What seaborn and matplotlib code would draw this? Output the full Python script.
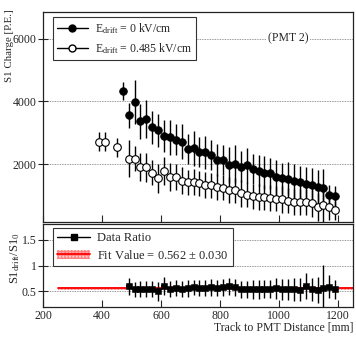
import numpy as np
import pandas as pd
import seaborn as sns
import matplotlib.pyplot as plt
from matplotlib.lines import Line2D
from matplotlib.patches import Patch

# Carga S1 (campo nulo)
x_on = [470, 490, 510, 530, 550, 570, 590, 610, 630, 650, 670, 690, 710, 730, 750,
        770, 790, 810, 830, 850, 870, 890, 910, 930, 950, 970, 990, 1010, 1030, 1050,
        1070, 1090, 1110, 1130, 1150, 1170, 1190]
s1_0 = [4330, 3550, 3990, 3370, 3440, 3170, 3070, 2900, 2860, 2775, 2710, 2490, 2500, 2370, 2370,
        2280, 2130, 2130, 1970, 2010, 1915, 1960, 1830, 1785, 1720, 1700, 1575, 1540, 1530, 1466,
        1424, 1360, 1318, 1254, 1232, 1008, 976]
s1_0_err = [290, 400, 700, 560, 600, 520, 540, 520, 560, 500, 560, 480, 560, 480, 520,
            480, 500, 480, 560, 600, 500, 560, 480, 500, 520, 500, 560, 500, 520, 540,
            520, 560, 540, 560, 600, 330, 320]

# Carga S1 (campo 0.485 kV/cm)
x_off = [390, 410, 450, 490, 510, 530, 550, 570, 590, 610, 630, 650, 670, 690, 710,
         730, 750, 770, 790, 810, 830, 850, 870, 890, 910, 930, 950, 970, 990, 1010,
         1030, 1050, 1070, 1090, 1110, 1130, 1150, 1170, 1190]
s1_d = [2714, 2714, 2533, 2165, 2165, 1895, 1892, 1722, 1540, 1780, 1590, 1580, 1470, 1420, 1420,
        1390, 1330, 1320, 1270, 1250, 1180, 1160, 1062, 1018, 976, 955, 934, 922, 890, 870,
        826, 784, 784, 784, 742, 634, 678, 614, 528]
s1_d_err = [300, 300, 300, 590, 400, 450, 450, 400, 450, 450, 450, 420, 420, 400, 420,
            400, 420, 400, 420, 400, 420, 400, 420, 400, 400, 420, 400, 420, 400, 420,
            400, 420, 420, 420, 420, 450, 650, 400, 300]

# Razao
x_ratio = x_on[1:]
ratio = [0.60, 0.54, 0.55, 0.55, 0.55, 0.50, 0.61, 0.55, 0.57, 0.55, 0.56, 0.58, 0.57, 0.57, 0.58,
         0.57, 0.58, 0.60, 0.58, 0.54, 0.54, 0.54, 0.54, 0.55, 0.55, 0.56, 0.54, 0.54, 0.54, 0.53,
         0.60, 0.54, 0.52, 0.56, 0.59, 0.54]
ratio_err = [0.16, 0.15, 0.16, 0.16, 0.16, 0.18, 0.17, 0.15, 0.16, 0.15, 0.16, 0.15, 0.16, 0.15, 0.16,
             0.15, 0.16, 0.16, 0.16, 0.17, 0.16, 0.18, 0.18, 0.18, 0.18, 0.20, 0.20, 0.20, 0.22, 0.22,
             0.25, 0.22, 0.25, 0.45, 0.22, 0.18]
fit_val = 0.562
fit_err = 0.030
fit_range = [250, 1250]

df_on = pd.DataFrame({'x': x_on, 'y': s1_0, 'err': s1_0_err})
df_off = pd.DataFrame({'x': x_off, 'y': s1_d, 'err': s1_d_err})
df_r = pd.DataFrame({'x': x_ratio, 'y': ratio, 'err': ratio_err})

sns.set_style('ticks')
plt.rcParams['font.family'] = ['Liberation Serif', 'DejaVu Serif']
plt.rcParams['mathtext.fontset'] = 'custom'
plt.rcParams['mathtext.rm'] = 'Liberation Serif'
plt.rcParams['mathtext.it'] = 'Liberation Serif:italic'
plt.rcParams['font.size'] = 8.5

fig = plt.figure(figsize=(3.56, 3.45), dpi=100)
ax = fig.add_axes([43/356, 1-222/345, 310/356, 210/345])
ax2 = fig.add_axes([43/356, 1-307/345, 310/356, 83/345])

grid_kw = dict(color='#777777', linestyle=(0, (1, 1)), linewidth=0.6, zorder=0)

# Painel superior
for yv in [2000, 4000, 6000]:
    ax.axhline(yv, **grid_kw)
ax.errorbar(df_on['x'], df_on['y'], yerr=df_on['err'], fmt='none', ecolor='black',
            elinewidth=1.0, capsize=0, zorder=2)
ax.errorbar(df_off['x'], df_off['y'], yerr=df_off['err'], fmt='none', ecolor='black',
            elinewidth=1.0, capsize=0, zorder=2)
sns.scatterplot(data=df_on, x='x', y='y', ax=ax, color='black', s=30, marker='o',
                edgecolor='black', linewidth=0.6, zorder=3)
sns.scatterplot(data=df_off, x='x', y='y', ax=ax, color='white', s=30, marker='o',
                edgecolor='black', linewidth=0.8, zorder=3)
ax.text(1030, 6000, '(PMT 2)', ha='center', va='center', fontsize=8.5,
        bbox=dict(facecolor='white', edgecolor='none', pad=1.5), zorder=4)

ax.set_xlim(200, 1250)
ax.set_ylim(150, 6850)
ax.set_yticks([2000, 4000, 6000])
ax.set_xticks([200, 400, 600, 800, 1000, 1200])
ax.set_xticklabels([])
ax.set_xlabel('')
ax.set_ylabel('S1 Charge [P.E.]', fontsize=7.8)
ax.yaxis.set_label_coords(-0.094, 0.84)
ax.tick_params(axis='x', direction='in', length=5, width=0.8)
ax.tick_params(axis='y', direction='inout', length=7, width=0.8, labelsize=8.5, pad=1)

h1 = Line2D([], [], color='black', marker='o', markersize=5, linewidth=1.0,
            markerfacecolor='black')
h2 = Line2D([], [], color='black', marker='o', markersize=5, linewidth=1.0,
            markerfacecolor='white')
leg = ax.legend([h1, h2], [r'$\mathrm{E_{drift}}$ = 0 kV/cm', r'$\mathrm{E_{drift}}$ = 0.485 kV/cm'],
                loc='upper left', bbox_to_anchor=(0.032, 0.976), borderaxespad=0,
                fancybox=False, framealpha=1, edgecolor='#333333', fontsize=8.5,
                handlelength=2.6, handletextpad=0.6, labelspacing=0.45, borderpad=0.35)
leg.get_frame().set_linewidth(0.8)
leg.set_zorder(5)

# Painel inferior
for yv in [0.5, 1.0, 1.5]:
    ax2.axhline(yv, **grid_kw)
ax2.fill_between(fit_range, fit_val - fit_err, fit_val + fit_err, facecolor='#ffd0d0',
                 edgecolor='#ff8080', hatch='+++++', linewidth=0, zorder=1)
sns.lineplot(x=fit_range, y=[fit_val, fit_val], ax=ax2, color='red', linewidth=1.3, zorder=2)
ax2.errorbar(df_r['x'], df_r['y'], yerr=df_r['err'], fmt='none', ecolor='black',
             elinewidth=1.0, capsize=0, zorder=3)
ax2.errorbar(df_r['x'], df_r['y'], xerr=10, fmt='none', ecolor='black',
             elinewidth=1.6, capsize=0, zorder=3)
sns.scatterplot(data=df_r, x='x', y='y', ax=ax2, color='black', s=22, marker='s',
                edgecolor='black', linewidth=0.4, zorder=4)

ax2.set_xlim(200, 1250)
ax2.set_ylim(0.2, 1.8)
ax2.set_yticks([0.5, 1.0, 1.5])
ax2.set_yticklabels(['0.5', '1', '1.5'])
ax2.set_xticks([200, 400, 600, 800, 1000, 1200])
ax2.set_ylabel(r'$\mathrm{S1_{drift}/S1_{0}}$', fontsize=9)
ax2.yaxis.set_label_coords(-0.068, 0.59)
ax2.set_xlabel('Track to PMT Distance [mm]', fontsize=8.5, loc='right', labelpad=0)
ax2.tick_params(axis='x', direction='in', length=5, width=0.8, labelsize=8.5, pad=2)
ax2.tick_params(axis='y', direction='inout', length=7, width=0.8, labelsize=8.5, pad=1)

h3 = Line2D([], [], color='black', marker='s', markersize=4.5, linewidth=1.0)
h4p = Patch(facecolor='#ffd0d0', edgecolor='#ff8080', hatch='+++++', linewidth=0)
h4l = Line2D([], [], color='red', linewidth=1.3)
leg2 = ax2.legend([h3, (h4p, h4l)], ['Data Ratio', r'Fit Value = 0.562 $\pm$ 0.030'],
                  loc='upper left', bbox_to_anchor=(0.032, 0.952), borderaxespad=0,
                  fancybox=False, framealpha=1, edgecolor='#333333', fontsize=9,
                  handlelength=2.6, handletextpad=0.6, labelspacing=0.35, borderpad=0.35)
leg2.get_frame().set_linewidth(0.8)
leg2.set_zorder(5)

for a in (ax, ax2):
    for sp in a.spines.values():
        sp.set_linewidth(0.9)
        sp.set_color('#222222')

fig.savefig('out.png', dpi=100)
